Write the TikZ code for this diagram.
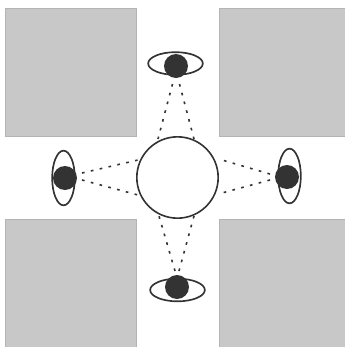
\documentclass[tikz,border=0pt]{standalone}
\definecolor{blockgray}{HTML}{C8C8C8}
\definecolor{inkdark}{HTML}{333333}
\usetikzlibrary{shapes.geometric}
\tikzset{
  block/.style={fill=blockgray,draw=blockgray!90!black,line width=0.5pt},
  globe/.style={circle,draw=inkdark,line width=1.2pt,fill=white,minimum size=61pt,inner sep=0pt},
  pupil/.style={circle,fill=inkdark,minimum size=18pt,inner sep=0pt},
  eyeh/.style={ellipse,draw=inkdark,line width=1.25pt,minimum width=41pt,minimum height=17pt,inner sep=0pt},
  eyev/.style={ellipse,draw=inkdark,line width=1.25pt,minimum width=17pt,minimum height=41pt,inner sep=0pt},
  sight/.style={draw=inkdark,line width=1.2pt,dash pattern=on 2pt off 4.8pt},
}
\begin{document}
\begin{tikzpicture}[x=0.75pt,y=-0.75pt]
\useasboundingbox (0,0) rectangle (345,347);
\fill[white] (0,0) rectangle (345,347);
\path[block] (5,8) rectangle (136,136);
\path[block] (219,8) rectangle (345.5,136);
\path[block] (5,219) rectangle (136,347.5);
\path[block] (219,219) rectangle (345.5,347.5);
\node[eyeh] (eT) at (175.5,63.5) {};
\node[pupil] (pT) at (176,66) {};
\node[eyeh] (eB) at (177.5,290) {};
\node[pupil] (pB) at (177,287) {};
\node[eyev] (eL) at (63.5,178) {};
\node[pupil] (pL) at (65,178) {};
\node[eyev] (eR) at (289.5,176) {};
\node[pupil] (pR) at (287,177) {};
\coordinate (tA) at (172.5,84);
\coordinate (tB) at (179.5,84);
\coordinate (tL) at (158,139);
\coordinate (tR) at (194,139);
\coordinate (bA) at (175,271);
\coordinate (bB) at (179,271);
\coordinate (bL) at (159,216);
\coordinate (bR) at (194,216);
\coordinate (lA) at (82,173);
\coordinate (lB) at (82,180);
\coordinate (lT) at (138,160);
\coordinate (lD) at (138,195);
\coordinate (rA) at (270,174);
\coordinate (rB) at (270,180);
\coordinate (rT) at (222,160);
\coordinate (rD) at (222,193);
\node[globe] (g) at (177.5,177.5) {};
\draw[sight] (tA) -- (tL);
\draw[sight] (tB) -- (tR);
\draw[sight] (bA) -- (bL);
\draw[sight] (bB) -- (bR);
\draw[sight] (lA) -- (lT);
\draw[sight] (lB) -- (lD);
\draw[sight] (rA) -- (rT);
\draw[sight] (rB) -- (rD);
\end{tikzpicture}
\end{document}
